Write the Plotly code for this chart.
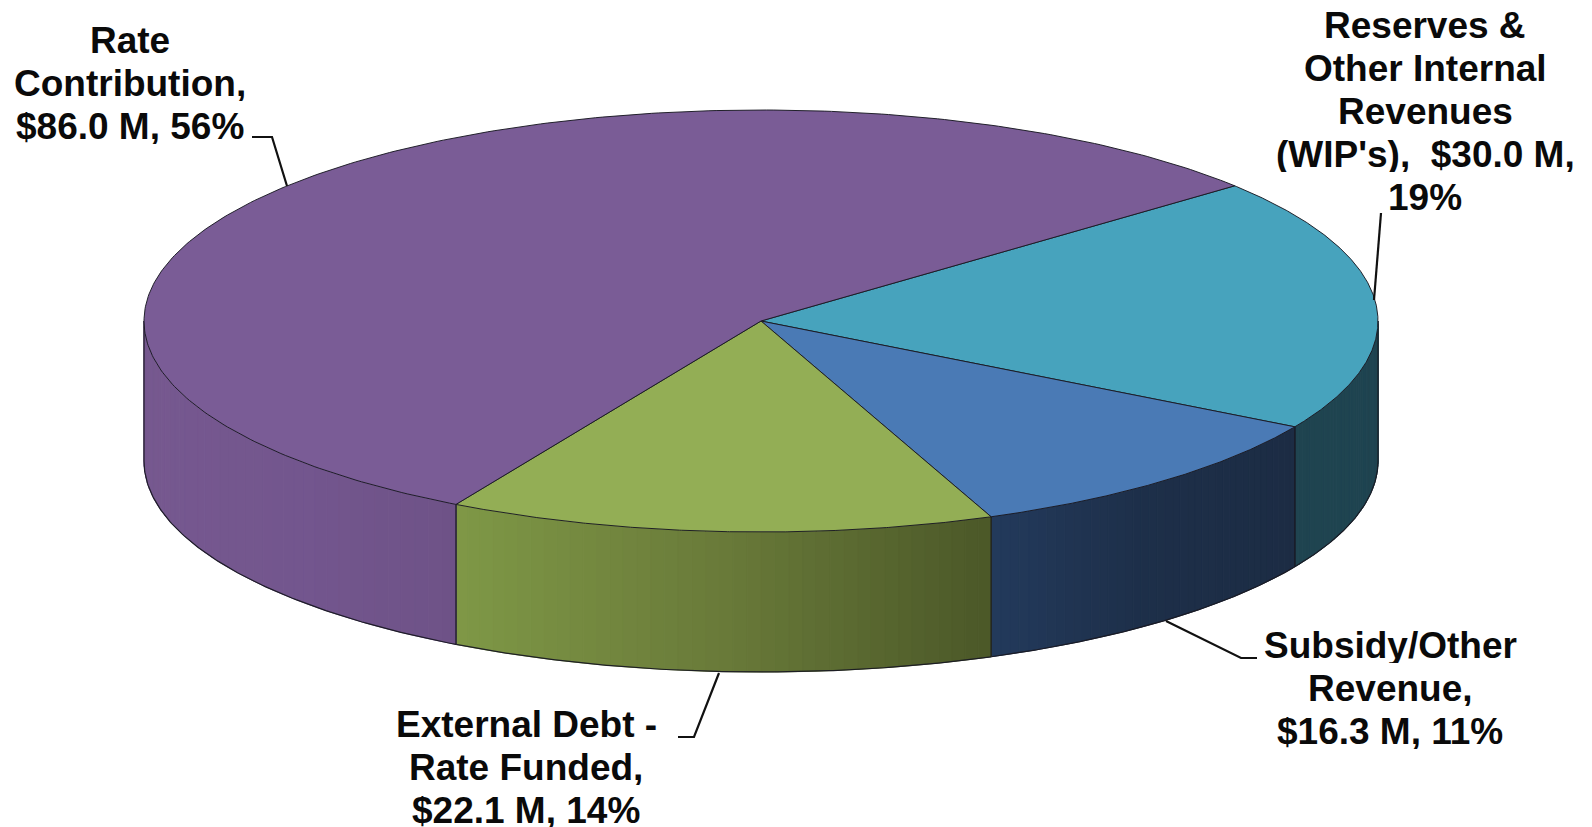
import numpy as np
import plotly.graph_objects as go

# ---- data ----
categories = ["Reserves & Other Internal Revenues (WIP's)", "Subsidy/Other Revenue",
              "External Debt - Rate Funded", "Rate Contribution"]
values_musd = [30.0, 16.3, 22.1, 86.0]
top_colors = ["#47A3BD", "#4A7AB5", "#93AE55", "#7A5C96"]
wall_left = [(31, 68, 80), (35, 58, 92), (127, 152, 70), (118, 88, 143)]
wall_mid = [(31, 68, 80), (29, 47, 73), (105, 122, 57), (115, 86, 142)]
wall_right = [(31, 68, 80), (28, 44, 68), (75, 88, 40), (110, 82, 135)]
label_lines = [
    ["Reserves &", "Other Internal", "Revenues", "(WIP's),  $30.0 M,", "19%"],
    ["Subsidy/Other", "Revenue,", "$16.3 M, 11%"],
    ["External Debt -", "Rate Funded,", "$22.1 M, 14%"],
    ["Rate", "Contribution,", "$86.0 M, 56%"],
]
label_center_x = [1425, 1390, 526, 130]
label_first_baseline = [38, 658, 737.5, 53]
leader_x = [[1381, 1374], [1166, 1241, 1257], [678, 694, 719], [252, 272, 287]]
leader_y = [[213, 300], [621, 658, 658], [737, 737, 673], [137, 137, 186]]

# ---- geometry (pixel-sized axes) ----
W, H = 1592, 827
CX, CY, RX, RY, DEPTH = 761, 321, 617, 211, 140
START_DEG = 39.85
FONT = 37
PITCH = 43.0
EDGE = "rgba(25,25,35,0.95)"

vals = np.array(values_musd)
sweeps = vals / vals.sum() * 360.0
ends = START_DEG - np.cumsum(sweeps)
starts = ends + sweeps


def rim(a_deg):
    a = np.radians(a_deg)
    return CX + RX * np.cos(a), CY - RY * np.sin(a)


def lerp(c0, c1, t):
    return tuple(int(round(c0[k] + (c1[k] - c0[k]) * t)) for k in range(3))


fig = go.Figure()


def add_poly(x, y, fill, line=None, width=1):
    fig.add_trace(go.Scatter(x=x, y=y, mode="lines", fill="toself", fillcolor=fill,
                             line=dict(color=line or fill, width=width),
                             hoverinfo="skip", showlegend=False))


def add_line(x, y, color=EDGE, width=1.2):
    fig.add_trace(go.Scatter(x=x, y=y, mode="lines", line=dict(color=color, width=width),
                             hoverinfo="skip", showlegend=False))


# side walls: only the front half (angles -180..0) is visible
for i in range(len(vals)):
    hi_v, lo_v = min(starts[i], 0.0), max(ends[i], -180.0)
    if hi_v <= lo_v:
        continue
    edges = np.linspace(lo_v, hi_v, 41)
    xs_l, _ = rim(lo_v)
    xs_r, _ = rim(hi_v)
    for a, b in zip(edges[:-1], edges[1:]):
        xa, ya = rim(a)
        xb, yb = rim(b)
        t = ((xa + xb) / 2 - xs_l) / max(xs_r - xs_l, 1)
        col = lerp(wall_left[i], wall_mid[i], t * 2) if t < 0.5 else lerp(wall_mid[i], wall_right[i], t * 2 - 1)
        c = f"rgb{col}"
        add_poly([xa, xb, xb, xa, xa], [ya, yb, yb + DEPTH, ya + DEPTH, ya], c)
    arc = np.linspace(lo_v, hi_v, 120)
    ax, ay = rim(arc)
    add_line(ax, ay + DEPTH)
    for a in (lo_v, hi_v):
        x0, y0 = rim(a)
        add_line([x0, x0], [y0, y0 + DEPTH])

# top face wedges
for i in range(len(vals)):
    arc = np.linspace(starts[i], ends[i], 300)
    ax, ay = rim(arc)
    x = np.concatenate([[CX], ax, [CX]])
    y = np.concatenate([[CY], ay, [CY]])
    add_poly(x, y, top_colors[i], line=EDGE, width=1.0)

# label leader lines
for lx, ly in zip(leader_x, leader_y):
    add_line(lx, ly, color="#111111", width=2.2)

# labels, one annotation per line
for lines, cx, base in zip(label_lines, label_center_x, label_first_baseline):
    for j, txt in enumerate(lines):
        fig.add_annotation(x=cx, y=base + j * PITCH - 0.36 * FONT, text=txt, showarrow=False,
                           xanchor="center", yanchor="middle", xref="x", yref="y", height=36,
                           font=dict(family="Liberation Sans", size=FONT, color="#0a0a0a", weight="bold"))

fig.update_layout(width=W, height=H, margin=dict(l=0, r=0, t=0, b=0),
                  paper_bgcolor="white", plot_bgcolor="white", showlegend=False,
                  xaxis=dict(range=[0, W], visible=False, fixedrange=True),
                  yaxis=dict(range=[H, 0], visible=False, fixedrange=True))
fig.write_html("out.html", config=dict(displayModeBar=False),
               post_script="document.body.style.margin='0';document.body.style.overflow='hidden';")
